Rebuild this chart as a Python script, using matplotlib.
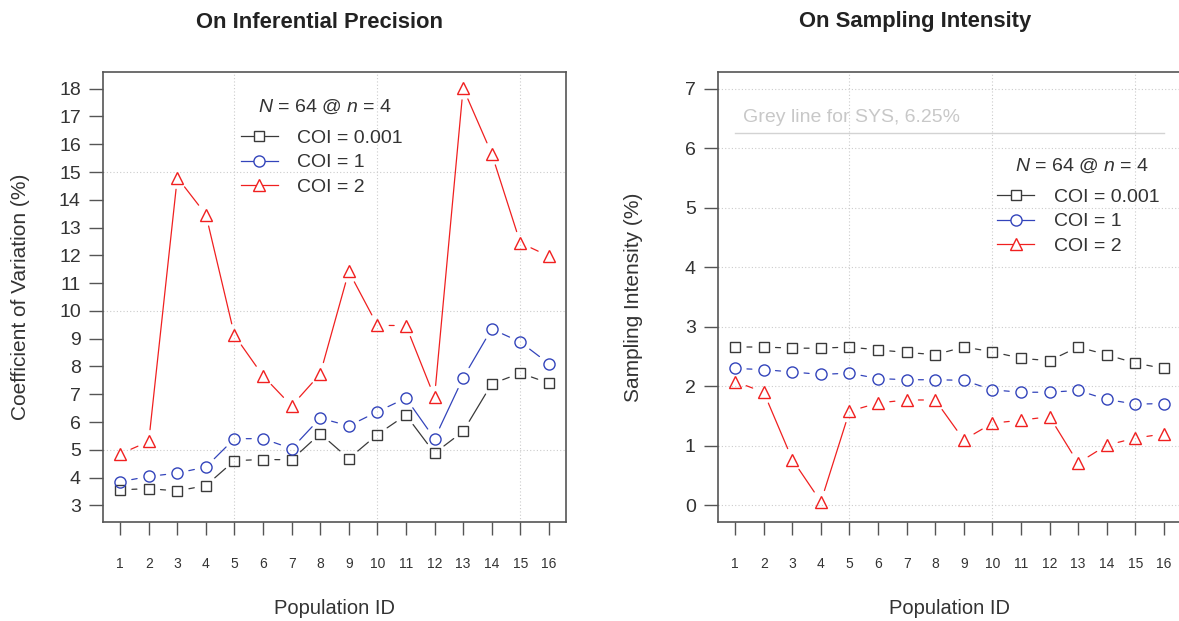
import matplotlib
matplotlib.use("Agg")
import matplotlib.pyplot as plt
from matplotlib.lines import Line2D
import numpy as np

plt.rcParams['font.family'] = ['Liberation Sans', 'DejaVu Sans']
plt.rcParams['mathtext.fontset'] = 'custom'
plt.rcParams['mathtext.rm'] = 'Liberation Sans'
plt.rcParams['mathtext.it'] = 'Liberation Sans:italic'

# data
pop_id = list(range(1, 17))
labels = ["COI = 0.001", "COI = 1", "COI = 2"]

cv_coi_0001 = [3.56, 3.60, 3.52, 3.71, 4.61, 4.65, 4.64, 5.58, 4.68, 5.55, 6.25, 4.88, 5.66, 7.37, 7.76, 7.40]
cv_coi_1 = [3.85, 4.04, 4.16, 4.38, 5.40, 5.40, 5.04, 6.14, 5.86, 6.37, 6.86, 5.40, 7.59, 9.35, 8.88, 8.10]
cv_coi_2 = [4.85, 5.30, 14.80, 13.47, 9.12, 7.66, 6.58, 7.73, 11.42, 9.48, 9.47, 6.89, 18.02, 15.66, 12.45, 11.97]

si_coi_0001 = [2.66, 2.66, 2.64, 2.64, 2.66, 2.61, 2.57, 2.53, 2.66, 2.58, 2.47, 2.43, 2.66, 2.53, 2.39, 2.30]
si_coi_1 = [2.30, 2.28, 2.24, 2.20, 2.22, 2.13, 2.11, 2.11, 2.10, 1.94, 1.90, 1.90, 1.93, 1.78, 1.70, 1.71]
si_coi_2 = [2.08, 1.90, 0.77, 0.06, 1.58, 1.72, 1.77, 1.77, 1.10, 1.38, 1.43, 1.49, 0.71, 1.01, 1.13, 1.20]

sys_level = 6.25

colors = ["#3a3a3a", "#3344bb", "#f02020"]
markers = ["s", "o", "^"]
msizes = [7, 8, 9]
txt = "#333333"
frame = "#555555"
gridc = "#cccccc"

fig = plt.figure(figsize=(11.79, 6.21), dpi=100)
ax1 = fig.add_axes([103/1179, 99/621, 463/1179, 450/621])
ax2 = fig.add_axes([718/1179, 99/621, 463/1179, 450/621])


def draw_series(ax, x, y, col, mk, ms):
	# R type="b": segments stop short of the points
	for i in range(len(x) - 1):
		ax.annotate("", xy=(x[i+1], y[i+1]), xytext=(x[i], y[i]),
			arrowprops=dict(arrowstyle="-", color=col, lw=0.9, shrinkA=8.5, shrinkB=8.5))
	ax.plot(x, y, ls="none", marker=mk, ms=ms, mfc="none", mec=col, mew=1.0)


def style_axes(ax, ylim, yticks, ygrid):
	ax.set_xlim(0.4, 16.6)
	ax.set_ylim(*ylim)
	for v in [5, 10, 15]:
		ax.axvline(v, color=gridc, lw=0.8, ls=(0, (1, 2)), zorder=0)
	for v in ygrid:
		ax.axhline(v, color=gridc, lw=0.8, ls=(0, (1, 2)), zorder=0)
	ax.set_xticks(pop_id)
	ax.set_yticks(yticks)
	ax.tick_params(axis="x", direction="out", length=9, width=1, colors=frame,
		labelsize=10, labelcolor=txt, pad=16)
	ax.tick_params(axis="y", direction="out", length=10, width=1, colors=frame,
		labelsize=14, labelcolor=txt, pad=6)
	for s in ax.spines.values():
		s.set_color(frame)
		s.set_linewidth(1.2)
	ax.set_xlabel("Population ID", fontsize=14.5, color=txt)
	ax.xaxis.set_label_coords(0.5, -0.172)


def add_legend(ax, title_xy, anchor):
	ax.text(title_xy[0], title_xy[1], r"$N$ = 64 @ $n$ = 4", transform=ax.transAxes,
		ha="center", va="center", fontsize=14, color=txt)
	handles = [Line2D([0], [0], color=c, lw=0.9, marker=m, ms=s, mfc="white", mec=c)
		for c, m, s in zip(colors, markers, msizes)]
	leg = ax.legend(handles, labels, loc="upper left",
		bbox_to_anchor=anchor, frameon=False, fontsize=14,
		handlelength=1.9, handletextpad=1.0, labelspacing=0.36, borderpad=0,
		borderaxespad=0)
	for t in leg.get_texts():
		t.set_color(txt)


# left panel
for y, c, m, s in zip([cv_coi_0001, cv_coi_1, cv_coi_2], colors, markers, msizes):
	draw_series(ax1, pop_id, y, c, m, s)
style_axes(ax1, (2.4, 18.6), list(range(3, 19)), [5, 10, 15])
ax1.set_ylabel("Coefficient of Variation (%)", fontsize=15, color=txt)
ax1.yaxis.set_label_coords(-0.158, 0.5)
add_legend(ax1, (0.479, 0.922), (0.298, 0.873))

# right panel
ax2.plot([pop_id[0], pop_id[-1]], [sys_level, sys_level], color="#d3d3d3", lw=1.0)
ax2.text(1.28, 6.52, "Grey line for SYS, 6.25%", color="#c8c8c8", fontsize=14, va="center")
for y, c, m, s in zip([si_coi_0001, si_coi_1, si_coi_2], colors, markers, msizes):
	draw_series(ax2, pop_id, y, c, m, s)
style_axes(ax2, (-0.28, 7.28), list(range(0, 8)), list(range(0, 8)))
ax2.set_ylabel("Sampling Intensity (%)", fontsize=15, color=txt)
ax2.yaxis.set_label_coords(-0.162, 0.5)
add_legend(ax2, (0.786, 0.791), (0.603, 0.742))

fig.text(320/1179, 1 - 22/621, "On Inferential Precision", ha="center", va="center",
	fontsize=15.8, fontweight="bold", color="#222222")
fig.text(915/1179, 1 - 22/621, "On Sampling Intensity", ha="center", va="center",
	fontsize=15.8, fontweight="bold", color="#222222")

fig.savefig("out.png", dpi=100)
